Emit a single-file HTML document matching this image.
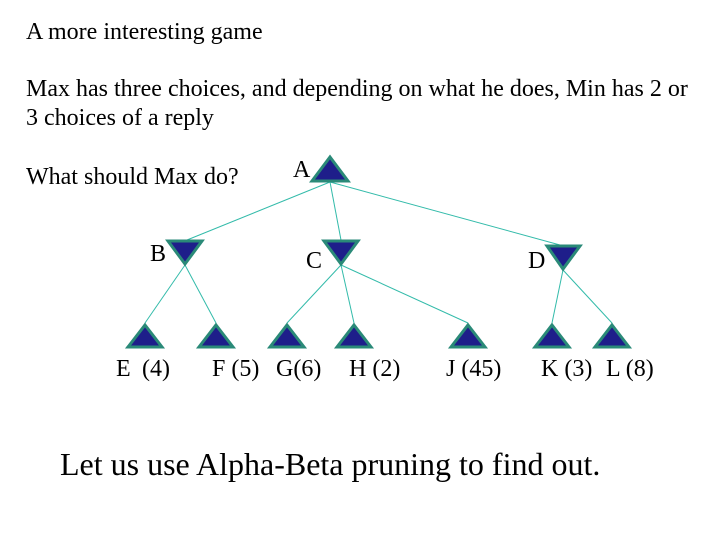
<!DOCTYPE html>
<html><head><style>
body{margin:0;background:#fff;}
svg{display:block;}
text{font-family:"Liberation Serif","Times New Roman",serif;fill:#000;}
</style></head><body>
<svg width="720" height="540" xmlns="http://www.w3.org/2000/svg">
<g font-size="24">
<text x="26" y="39">A more interesting game</text>
<text x="26" y="96">Max has three choices, and depending on what he does, Min has 2 or</text>
<text x="26" y="125">3 choices of a reply</text>
<text x="26" y="184">What should Max do?</text>
<text x="293" y="177">A</text>
<text x="150" y="261">B</text>
<text x="306" y="268">C</text>
<text x="528" y="268">D</text>
<text x="116" y="376">E</text>
<text x="142" y="376">(4)</text>
<text x="212" y="376">F (5)</text>
<text x="276" y="376">G(6)</text>
<text x="349" y="376">H (2)</text>
<text x="446" y="376">J (45)</text>
<text x="541" y="376">K (3)</text>
<text x="606" y="376">L (8)</text>
</g>
<text x="60" y="475" font-size="32">Let us use Alpha-Beta pruning to find out.</text>
<g stroke="#33bbaa" stroke-width="1">
<line x1="330" y1="182" x2="187" y2="240"/>
<line x1="330" y1="182" x2="341" y2="240"/>
<line x1="330" y1="182" x2="560" y2="245"/>
<line x1="185" y1="265" x2="145" y2="323"/>
<line x1="185" y1="265" x2="216" y2="323"/>
<line x1="341" y1="265" x2="287" y2="323"/>
<line x1="341" y1="265" x2="354" y2="323"/>
<line x1="341" y1="265" x2="468" y2="323"/>
<line x1="563" y1="270" x2="552" y2="323"/>
<line x1="563" y1="270" x2="612" y2="323"/>
</g>
<g fill="#1e1e8a" stroke="#2a8a78" stroke-width="3" stroke-linejoin="miter">
<polygon points="330,157 348,181 312,181"/>
<polygon points="168,241 202,241 185,264"/>
<polygon points="324,241 358,241 341,264"/>
<polygon points="547,246 580,246 563,269"/>
<polygon points="145,325 162,347 128,347"/>
<polygon points="216,325 233,347 199,347"/>
<polygon points="287,325 304,347 270,347"/>
<polygon points="354,325 371,347 337,347"/>
<polygon points="468,325 485,347 451,347"/>
<polygon points="552,325 569,347 535,347"/>
<polygon points="612,325 629,347 595,347"/>
</g>
</svg>
</body></html>
